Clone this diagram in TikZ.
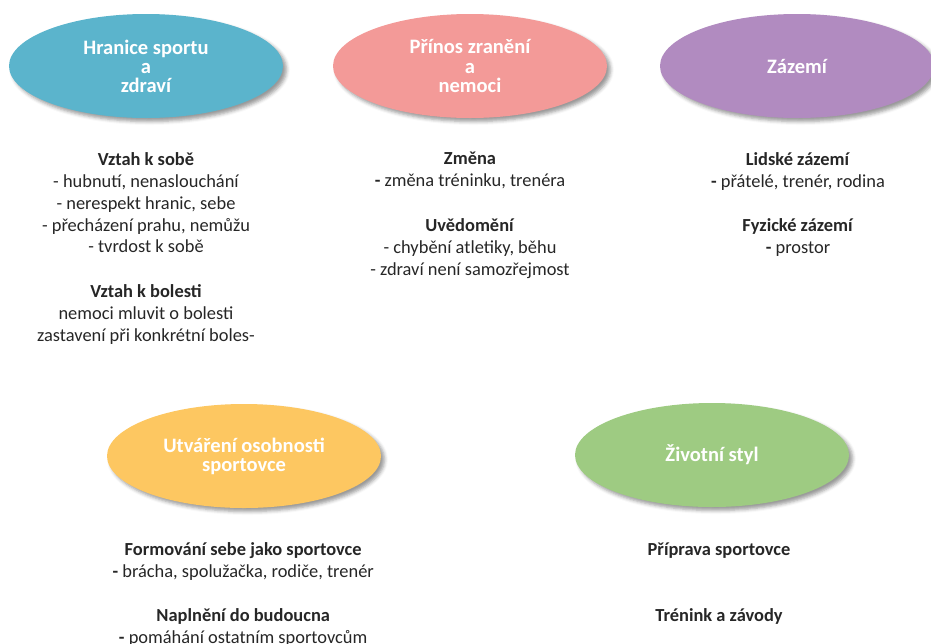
\documentclass[tikz,border=0pt]{standalone}
\usepackage{fontspec}
\setmainfont{Carlito}
\usetikzlibrary{shapes.geometric,shadows.blur}

\definecolor{hranice}{RGB}{91,180,204}
\definecolor{prinos}{RGB}{243,154,152}
\definecolor{zazemi}{RGB}{177,139,192}
\definecolor{osobnost}{RGB}{253,199,97}
\definecolor{styl}{RGB}{158,203,130}
\definecolor{popis}{RGB}{38,38,38}

\tikzset{
  tema/.style={ellipse, draw=none, minimum width=6.85cm, minimum height=2.6cm,
    inner sep=0pt, align=center, text=white,
    font=\fontsize{14.6pt}{13.6pt}\selectfont\bfseries,
    blur shadow={shadow xshift=2.5pt, shadow yshift=-2.5pt, shadow opacity=40, shadow blur radius=2.5pt}},
  odstavec/.style={anchor=north, inner sep=0pt, align=center, text=popis,
    font=\fontsize{13.1pt}{15.6pt}\selectfont}
}

\begin{document}
\begin{tikzpicture}
  \useasboundingbox (0cm,0cm) rectangle (23.275cm,-16.075cm);

  \node[tema, fill=hranice] (hranice) at (3.65cm,-1.65cm) {Hranice sportu\\a\\zdraví};
  \node[tema, fill=prinos] (prinos) at (11.75cm,-1.65cm) {Přínos zranění\\a\\nemoci};
  \node[tema, fill=zazemi] (zazemi) at (19.925cm,-1.65cm) {Zázemí};
  \node[tema, fill=osobnost] (osobnost) at (6.1cm,-11.4cm) {Utváření osobnosti\\sportovce};
  \node[tema, fill=styl] (styl) at (17.8cm,-11.375cm) {Životní styl};

  \node[odstavec] (sobe) at (3.65cm,-3.8cm) {\textbf{Vztah k sobě}\\- hubnutí, nenaslouchání\\- nerespekt hranic, sebe\\- přecházení prahu, nemůžu\\- tvrdost k sobě};
  \node[odstavec] (bolest) at (3.65cm,-7.1cm) {\textbf{Vztah k bolesti}\\nemoci mluvit o bolesti\\zastavení při konkrétní boles-};

  \node[odstavec] (zmena) at (11.75cm,-3.8cm) {\textbf{Změna}\\\textbf{-} změna tréninku, trenéra};
  \node[odstavec] (uvedomeni) at (11.75cm,-5.45cm) {\textbf{Uvědomění}\\- chybění atletiky, běhu\\- zdraví není samozřejmost};

  \node[odstavec] (lidske) at (19.95cm,-3.8cm) {\textbf{Lidské zázemí}\\\textbf{-} přátelé, trenér, rodina};
  \node[odstavec] (fyzicke) at (19.95cm,-5.45cm) {\textbf{Fyzické zázemí}\\\textbf{-} prostor};

  \node[odstavec] (formovani) at (6.08cm,-13.55cm) {\textbf{Formování sebe jako sportovce}\\\textbf{-} brácha, spolužačka, rodiče, trenér};
  \node[odstavec] (naplneni) at (6.08cm,-15.2cm) {\textbf{Naplnění do budoucna}\\\textbf{-} pomáhání ostatním sportovcům};

  \node[odstavec] (priprava) at (17.975cm,-13.55cm) {\textbf{Příprava sportovce}};
  \node[odstavec] (trenink) at (17.975cm,-15.2cm) {\textbf{Trénink a závody}};
\end{tikzpicture}
\end{document}
